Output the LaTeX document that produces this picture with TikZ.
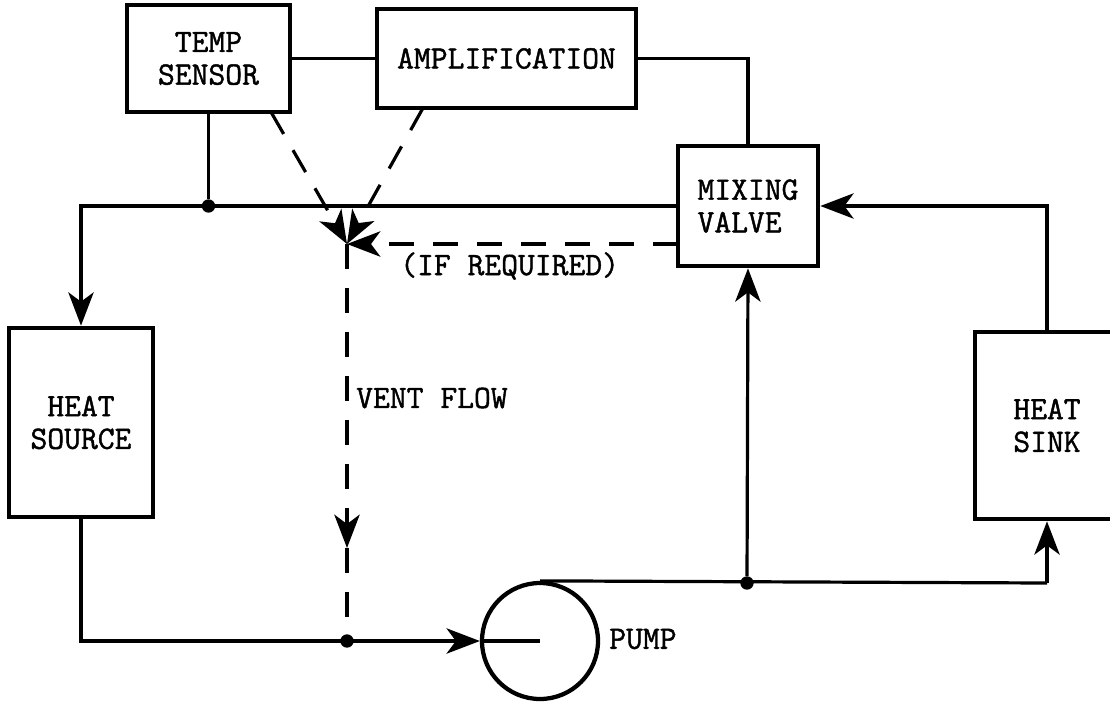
\documentclass[tikz,border=0pt]{standalone}
\usepackage{fontspec}
\setmonofont[FakeBold=1.3]{Latin Modern Mono}
\usetikzlibrary{arrows.meta}
\begin{document}
\begin{tikzpicture}[x=0.75pt,y=-0.75pt,
  txt/.style={font=\ttfamily\fontsize{24.5}{24.5}\selectfont},
  box/.style={draw, line width=3.5pt, rectangle, inner sep=0pt, align=center, txt},
  lbl/.style={inner sep=0pt, txt},
  pipe/.style={line width=2.4pt},
  tipA/.style={-{Stealth[length=25pt,width=19pt,inset=7pt]}},
  flow/.style={pipe, tipA},
  vent/.style={pipe, dash pattern=on 19pt off 14pt},
  jdot/.style={circle, fill, inner sep=0pt, minimum size=10pt}]
\useasboundingbox (0,0) rectangle (1110,704);

% blocks
\node[box, minimum width=122.25pt, minimum height=80.25pt] (ts) at (208.5,58.5) {TEMP\\SENSOR};
\node[box, minimum width=194.25pt, minimum height=74.25pt] (amp) at (506.5,58.5) {AMPLIFICATION};
\node[box, minimum width=105pt, minimum height=90pt, align=left] (mv) at (748,206) {MIXING\\VALVE};
\node[box, minimum width=108pt, minimum height=141.75pt] (hs) at (81,422.5) {HEAT\\SOURCE};
\node[box, minimum width=108pt, minimum height=140.25pt] (hk) at (1047,425.5) {HEAT\\SINK};
\node[draw, circle, line width=3.2pt, minimum size=87pt, inner sep=0pt] (pump) at (540,641) {};

% junctions and corners
\node[jdot] (j1) at (208.5,206) {};
\node[jdot] (j2) at (347,641) {};
\node[jdot] (j3) at (747,583) {};
\coordinate (tl) at (81,206);
\coordinate (c3) at (1047,583);
\coordinate (ap) at (347,244);
\coordinate (mvd) at (678,244);
\coordinate (d1) at (271,112);
\coordinate (d2) at (423,108);
\coordinate (va) at (347,548);

% control connections
\draw[pipe] (ts) -- (amp);
\draw[pipe] (amp.east) -| (mv.north);
\draw[pipe] (ts.south) -- (j1);

% main loop
\draw[flow] (mv.west) -- (tl) -- (hs.north);
\draw[flow] (hs.south) |- (pump.west);
\draw[pipe] (pump.west) -- (pump.center);
\draw[pipe] (pump.north) -- (c3);
\draw[flow] (c3) -- (hk.south);
\draw[flow] (j3) -- (mv.south);
\draw[flow] (hk.north) |- (mv.east);

% vent flow (dashed)
\draw[vent, tipA] (mvd) -- (ap);
\draw[vent, tipA] (d1) -- (ap);
\draw[vent, tipA] (d2) -- (ap);
\draw[vent, tipA] (ap) -- (va);
\draw[vent] (va) -- (j2);

% labels
\node[lbl, anchor=west] (ifr) at (400,266) {(IF REQUIRED)};
\node[lbl, anchor=west] (vf) at (356,398) {VENT FLOW};
\node[lbl, anchor=west] (pl) at (609,639) {PUMP};
\end{tikzpicture}
\end{document}
